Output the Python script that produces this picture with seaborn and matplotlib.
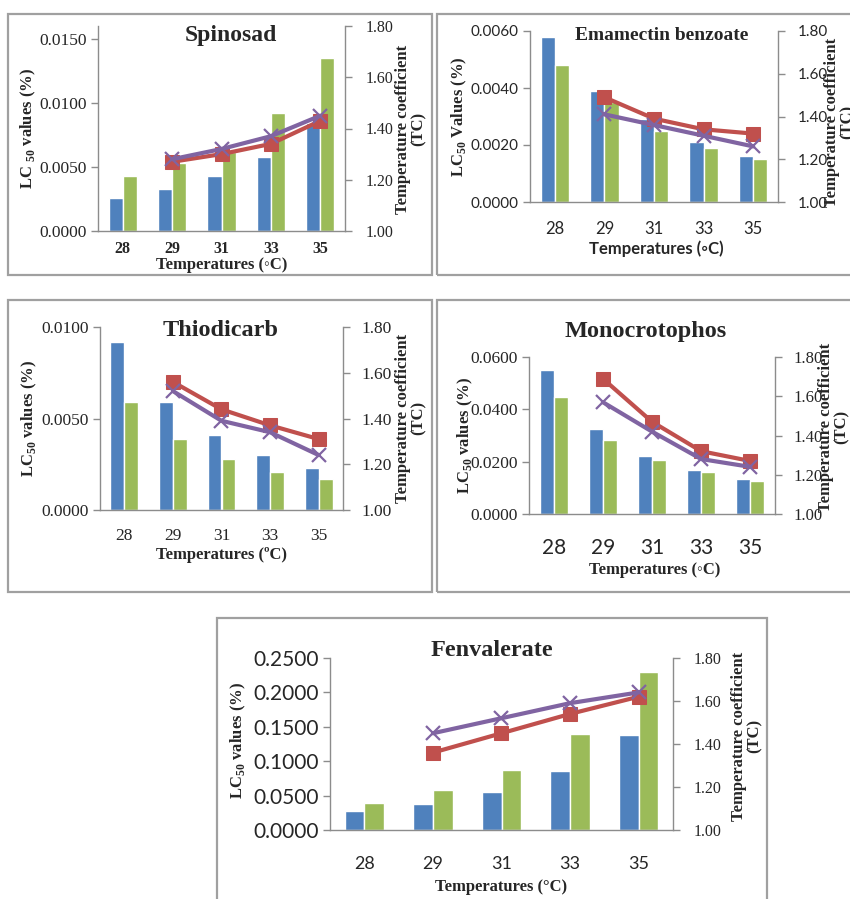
import matplotlib
matplotlib.use('Agg')
import matplotlib.pyplot as plt
import seaborn as sns
import pandas as pd
from matplotlib.patches import Rectangle

# categories on the x axis
temps = ['28', '29', '31', '33', '35']
tc_temps = ['29', '31', '33', '35']

# LC50 bars (blue / green) and temperature coefficient lines (red / purple)
spinosad_lc_a = [0.0026, 0.0033, 0.0043, 0.0058, 0.0084]
spinosad_lc_b = [0.0043, 0.0053, 0.0062, 0.0092, 0.0135]
spinosad_tc_a = [1.27, 1.30, 1.34, 1.43]
spinosad_tc_b = [1.28, 1.32, 1.37, 1.45]

emamectin_lc_a = [0.0058, 0.0039, 0.0029, 0.0021, 0.0016]
emamectin_lc_b = [0.0048, 0.0035, 0.0025, 0.0019, 0.0015]
emamectin_tc_a = [1.49, 1.39, 1.34, 1.32]
emamectin_tc_b = [1.41, 1.36, 1.31, 1.26]

thiodicarb_lc_a = [0.0092, 0.0059, 0.0041, 0.0030, 0.0023]
thiodicarb_lc_b = [0.0059, 0.0039, 0.0028, 0.0021, 0.0017]
thiodicarb_tc_a = [1.56, 1.44, 1.37, 1.31]
thiodicarb_tc_b = [1.52, 1.39, 1.34, 1.24]

monocrotophos_lc_a = [0.0549, 0.0325, 0.0222, 0.0169, 0.0135]
monocrotophos_lc_b = [0.0447, 0.0284, 0.0205, 0.0160, 0.0128]
monocrotophos_tc_a = [1.69, 1.47, 1.32, 1.27]
monocrotophos_tc_b = [1.57, 1.42, 1.28, 1.24]

fenvalerate_lc_a = [0.0276, 0.0377, 0.0546, 0.0851, 0.1383]
fenvalerate_lc_b = [0.0397, 0.0580, 0.0875, 0.1402, 0.2297]
fenvalerate_tc_a = [1.36, 1.45, 1.54, 1.62]
fenvalerate_tc_b = [1.45, 1.52, 1.59, 1.64]

BLUE, GREEN, RED, PURPLE = '#4F81BD', '#9BBB59', '#C0504D', '#8064A2'
AXIS_GREY = '#8C8C8C'
SERIF = ['Liberation Serif', 'DejaVu Serif']
SANS = ['Lato', 'DejaVu Sans']

W, H = 850, 899

sns.set_theme(style='white')
plt.rcParams['font.family'] = SERIF
plt.rcParams['mathtext.fontset'] = 'custom'
plt.rcParams['mathtext.rm'] = 'Liberation Serif'
plt.rcParams['mathtext.bf'] = 'Liberation Serif:bold'


def fx(px):
    return px / W


def fy(py):
    return 1 - py / H


def draw_panel(fig, lay, lc_a, lc_b, tc_a, tc_b):
    x0, x1, y0, y1 = lay['frame']
    fig.add_artist(Rectangle((fx(x0), fy(y1)), fx(x1 - x0), (y1 - y0) / H,
                             transform=fig.transFigure, fill=False,
                             ec='#A0A0A0', lw=1.6))

    l, r, t, b = lay['axes']
    ax = fig.add_axes([fx(l), fy(b), fx(r - l), (b - t) / H])

    df = pd.DataFrame({
        'temp': temps * 2,
        'lc50': lc_a + lc_b,
        'series': ['a'] * len(temps) + ['b'] * len(temps),
    })
    sns.barplot(data=df, x='temp', y='lc50', hue='series', order=temps,
                palette=[BLUE, GREEN], width=0.572, saturation=1,
                errorbar=None, legend=False, ax=ax)
    ax.set_xlabel('')
    ax.set_ylabel('')

    ymax, ystep = lay['ylim']
    ticks = [i * ystep for i in range(int(round(ymax / ystep + 1e-9)) + 1) if i * ystep <= ymax + 1e-12]
    ax.set_ylim(0, ymax)
    ax.set_yticks(ticks)
    fam, size = lay['lfont']
    ax.set_yticklabels([f'{v:.4f}' for v in ticks], fontfamily=fam, fontsize=size)

    ax.set_xticks(range(len(temps)))
    fam, size, weight = lay['xfont']
    ax.set_xticklabels(temps, fontfamily=fam, fontsize=size, fontweight=weight)
    ax.set_xticks([i - 0.5 for i in range(len(temps) + 1)], minor=True)
    ax.set_xlim(-0.5, len(temps) - 0.5)
    ax.tick_params(axis='x', which='major', length=0, pad=lay['xpad'])
    ax.tick_params(axis='x', which='minor', length=5, width=1, color=AXIS_GREY, direction='out')
    ax.tick_params(axis='y', length=5, width=1, color=AXIS_GREY, direction='out', left=True, pad=3)

    ax2 = ax.twinx()
    pos = [temps.index(t) for t in tc_temps]
    sns.lineplot(x=pos, y=tc_a, color=RED, marker='s', markersize=10,
                 markeredgecolor=RED, lw=3, ax=ax2)
    sns.lineplot(x=pos, y=tc_b, color=PURPLE, marker='x', markersize=10,
                 markeredgewidth=1.6, markeredgecolor=PURPLE, lw=3, ax=ax2)
    ax2.set_ylim(1.0, 1.8)
    rticks = [1.0, 1.2, 1.4, 1.6, 1.8]
    ax2.set_yticks(rticks)
    fam, size = lay['rfont']
    ax2.set_yticklabels([f'{v:.2f}' for v in rticks], fontfamily=fam, fontsize=size)
    ax2.tick_params(axis='y', length=5, width=1, color=AXIS_GREY, direction='out', right=True, pad=lay['rpad'])
    ax.set_xlim(-0.5, len(temps) - 0.5)

    for a in (ax, ax2):
        a.grid(False)
        a.set_facecolor('none')
        a.spines['top'].set_visible(False)
        for side in ('left', 'right', 'bottom'):
            a.spines[side].set_color(AXIS_GREY)
            a.spines[side].set_linewidth(1)
    ax.spines['right'].set_visible(False)
    ax2.spines['left'].set_visible(False)
    ax2.spines['bottom'].set_visible(False)

    tx, ty, tsize = lay['title']
    fig.text(fx(tx), fy(ty), lay['name'], ha='center', va='center',
             fontsize=tsize, fontweight='bold', family=SERIF)
    lx, ly = lay['ylabel']
    fig.text(fx(lx), fy(ly), lay['ytext'], ha='center', va='center', rotation=90,
             fontsize=12, fontweight='bold', family=SERIF)
    rx, ry = lay['rlabel']
    fig.text(fx(rx), fy(ry), 'Temperature coefficient\n(TC)', ha='center', va='center',
             rotation=90, fontsize=12, fontweight='bold', family=SERIF, linespacing=1.0)
    xx, xy, xfam = lay['xlabel']
    fig.text(fx(xx), fy(xy), lay['xtext'], ha='center', va='center',
             fontsize=12, fontweight='bold', family=xfam)


layouts = [
    dict(name='Spinosad', frame=(8, 432, 14, 275), axes=(98, 345, 26, 231),
         ylim=(0.016, 0.005), lfont=(SERIF, 12.5), rfont=(SERIF, 11.5),
         xfont=(SERIF, 11.5, 'bold'), xpad=7, rpad=10,
         title=(231, 36, 17), ytext=r'LC $_{\mathbf{50}}$ values (%)', ylabel=(28, 128),
         rlabel=(411, 129), xtext='Temperatures (◦C)', xlabel=(222, 265, SERIF)),
    dict(name='Emamectin benzoate', frame=(437, 856, 14, 275), axes=(530, 778, 31, 202),
         ylim=(0.006, 0.002), lfont=(SANS, 11), rfont=(SANS, 11),
         xfont=(SANS, 12, 'normal'), xpad=14, rpad=9,
         title=(662, 35, 14), ytext=r'LC$_{\mathbf{50}}$ Values (%)', ylabel=(459, 117),
         rlabel=(840, 122), xtext='Temperatures (◦C)', xlabel=(656, 249, SANS)),
    dict(name='Thiodicarb', frame=(8, 432, 300, 592), axes=(100, 343, 327, 510),
         ylim=(0.01, 0.005), lfont=(SERIF, 12.5), rfont=(SERIF, 12.5),
         xfont=(SERIF, 12.5, 'normal'), xpad=13, rpad=8,
         title=(221, 331, 17.5), ytext=r'LC$_{\mathbf{50}}$ values (%)', ylabel=(29, 418),
         rlabel=(411, 418), xtext='Temperatures (ºC)', xlabel=(222, 555, SERIF)),
    dict(name='Monocrotophos', frame=(437, 856, 300, 592), axes=(529, 775, 357, 514),
         ylim=(0.06, 0.02), lfont=(SERIF, 12.5), rfont=(SERIF, 12),
         xfont=(SANS, 15, 'normal'), xpad=17, rpad=8,
         title=(646, 331, 17.5), ytext=r'LC$_{\mathbf{50}}$ values (%)', ylabel=(465, 435),
         rlabel=(834, 427), xtext='Temperatures (◦C)', xlabel=(655, 570, SERIF)),
    dict(name='Fenvalerate', frame=(217, 767, 618, 905), axes=(330, 673, 658, 830),
         ylim=(0.25, 0.05), lfont=(SANS, 15), rfont=(SERIF, 11.5),
         xfont=(SANS, 13, 'normal'), xpad=19, rpad=10,
         title=(492, 650, 17.5), ytext=r'LC$_{\mathbf{50}}$ values (%)', ylabel=(238, 740),
         rlabel=(747, 736), xtext='Temperatures (°C)', xlabel=(501, 887, SERIF)),
]

panel_data = [
    (spinosad_lc_a, spinosad_lc_b, spinosad_tc_a, spinosad_tc_b),
    (emamectin_lc_a, emamectin_lc_b, emamectin_tc_a, emamectin_tc_b),
    (thiodicarb_lc_a, thiodicarb_lc_b, thiodicarb_tc_a, thiodicarb_tc_b),
    (monocrotophos_lc_a, monocrotophos_lc_b, monocrotophos_tc_a, monocrotophos_tc_b),
    (fenvalerate_lc_a, fenvalerate_lc_b, fenvalerate_tc_a, fenvalerate_tc_b),
]

fig = plt.figure(figsize=(W / 100, H / 100), dpi=100)
fig.patch.set_facecolor('white')

for lay, data in zip(layouts, panel_data):
    draw_panel(fig, lay, *data)

fig.savefig('out.png', dpi=100)
plt.close(fig)
